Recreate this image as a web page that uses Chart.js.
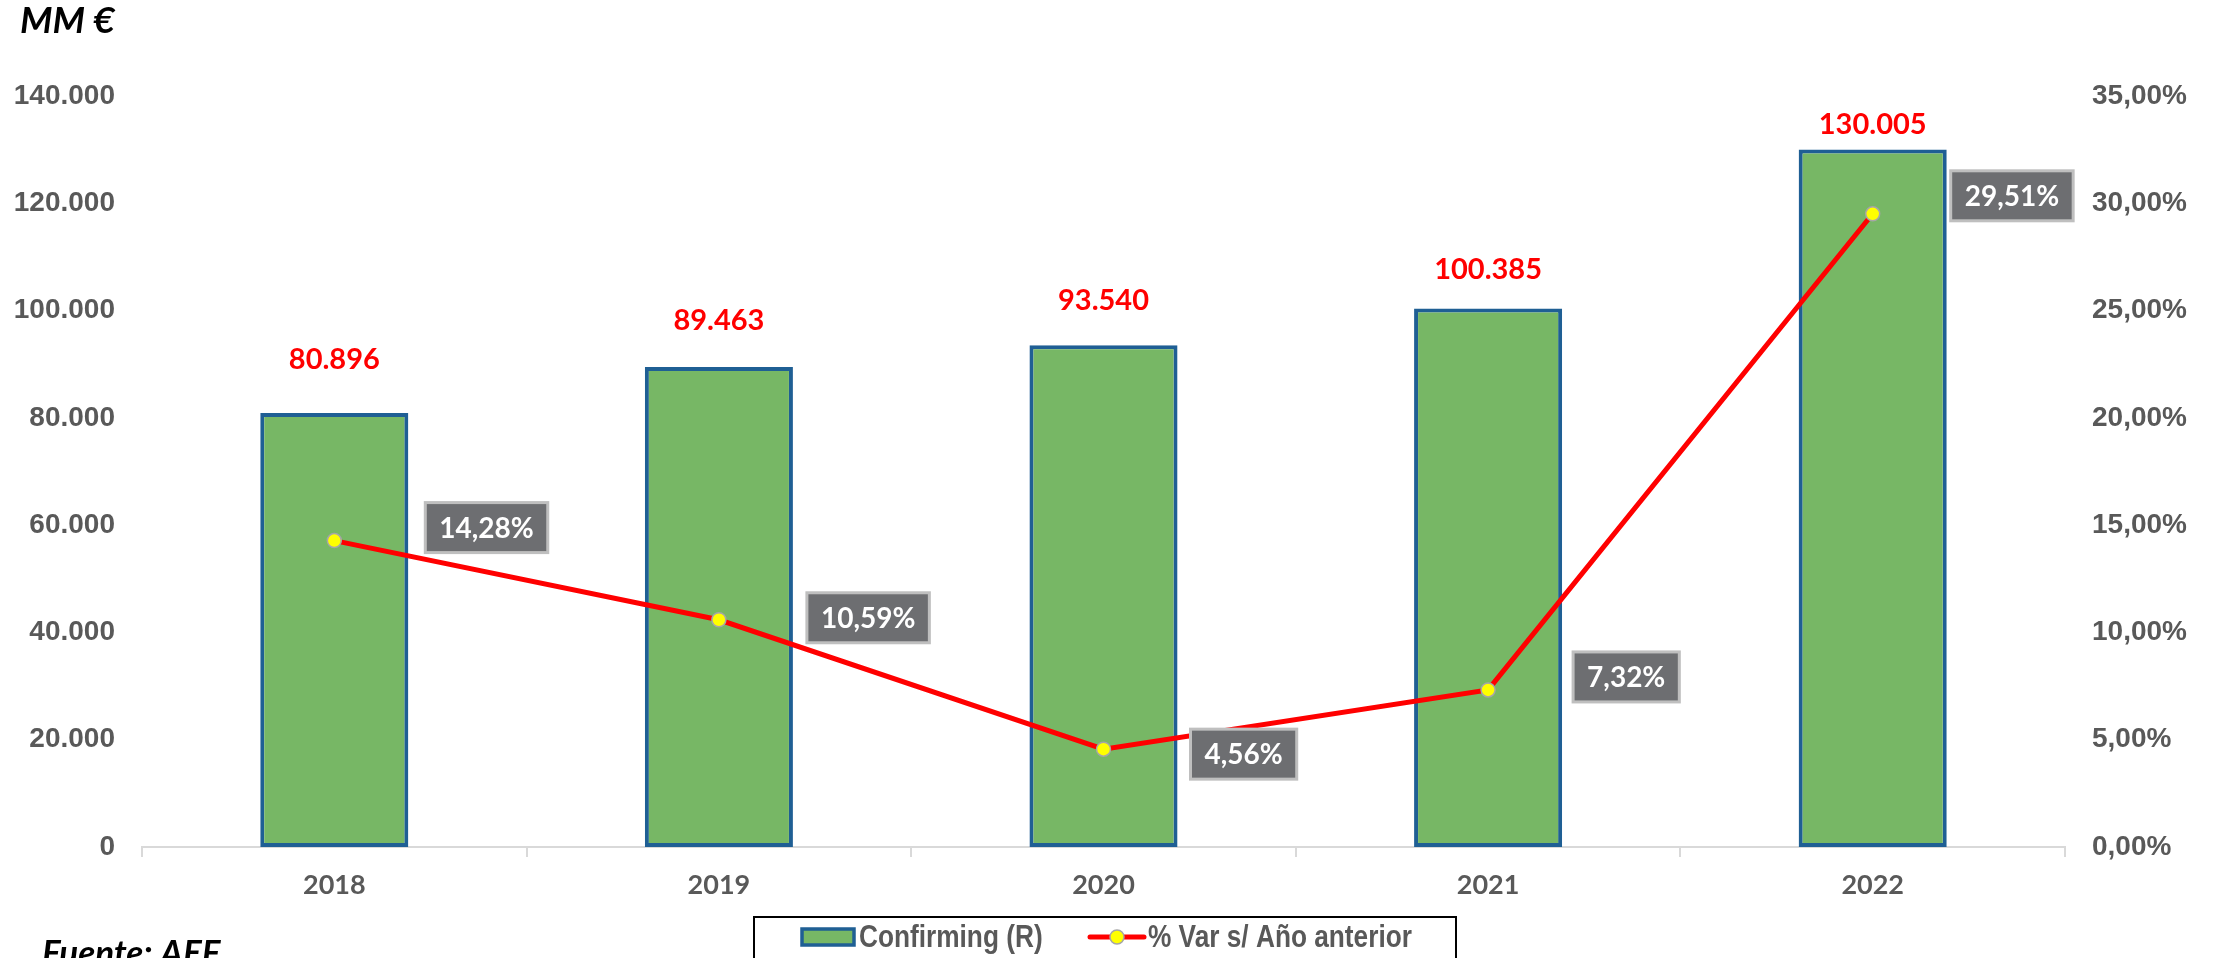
<!DOCTYPE html>
<html>
<head>
<meta charset="utf-8">
<script src="https://cdn.jsdelivr.net/npm/chart.js@4"></script>
<style>
  html, body { margin: 0; padding: 0; background: #ffffff; }
  canvas { display: block; }
</style>
</head>
<body>
<canvas id="c" width="2216" height="958"></canvas>
<script>
// ---- Data ----
const categories = ['2018', '2019', '2020', '2021', '2022'];
const confirming = [80896, 89463, 93540, 100385, 130005];
const variation = [14.28, 10.59, 4.56, 7.32, 29.51];
const leftAxisMax = 140000;
const leftAxisStep = 20000;
const rightAxisMax = 35;
const rightAxisStep = 5;
const titleText = 'MM €';
const sourceText = 'Fuente: AEF';
const barLabel = 'Confirming (R)';
const lineLabel = '% Var s/ Año anterior';

// ---- Formatting helpers ----
function fmtThousands(v) {
  return String(Math.round(v)).replace(/\B(?=(\d{3})+(?!\d))/g, '.');
}
function fmtPct(v) {
  return v.toFixed(2).replace('.', ',') + '%';
}

const GREEN = '#77B765';
const BLUE = '#1F5F94';
const RED = '#FF0000';
const GREY_TXT = '#595959';

// label placement styles (offsets in px)
const valueLabelLift = [54, 47, 46, 40, 26];
const pctBoxDx = [91, 88, 87, 85, 78];
const pctBoxDy = [-13, -2, 5, -13, -18];

function condensedText(ctx, txt, x, y, sx) {
  ctx.save();
  ctx.translate(x, y);
  ctx.scale(sx, 1);
  ctx.fillText(txt, 0, 0);
  ctx.restore();
}

const labelsPlugin = {
  id: 'labelsPlugin',
  afterDatasetsDraw(chart) {
    const ctx = chart.ctx;
    ctx.save();
    // bar value labels
    const barMeta = chart.getDatasetMeta(0);
    ctx.font = 'bold 29px Lato, "Open Sans", sans-serif';
    ctx.fillStyle = RED;
    ctx.textAlign = 'center';
    ctx.textBaseline = 'alphabetic';
    barMeta.data.forEach((el, i) => {
      const cy = el.y - valueLabelLift[i];
      ctx.fillText(fmtThousands(chart.data.datasets[0].data[i]), el.x, cy + 0.358 * 29);
    });
    // percentage boxes
    const lineMeta = chart.getDatasetMeta(1);
    ctx.font = 'bold 28px Lato, "Open Sans", sans-serif';
    lineMeta.data.forEach((el, i) => {
      const txt = fmtPct(chart.data.datasets[1].data[i]);
      const w = ctx.measureText(txt).width + 28;
      const h = 50;
      const left = el.x + pctBoxDx[i];
      const top = el.y + pctBoxDy[i] - h / 2;
      ctx.fillStyle = '#6D6E71';
      ctx.fillRect(left, top, w, h);
      ctx.strokeStyle = '#BFBFBF';
      ctx.lineWidth = 3;
      ctx.strokeRect(left, top, w, h);
      ctx.fillStyle = '#FFFFFF';
      ctx.textAlign = 'center';
      ctx.fillText(txt, left + w / 2, top + h / 2 + 0.358 * 28);
    });
    ctx.restore();
  },
  afterDraw(chart) {
    const ctx = chart.ctx;
    ctx.save();
    // title and source
    ctx.fillStyle = '#000000';
    ctx.textAlign = 'left';
    ctx.textBaseline = 'alphabetic';
    ctx.font = 'italic bold 37px Lato, "Open Sans", sans-serif';
    ctx.fillText(titleText, 20, 33);
    ctx.font = 'italic bold 35px Lato, "Open Sans", sans-serif';
    ctx.fillText(sourceText, 42, 965);

    // legend
    const bx = 754, by = 917, bw = 702;
    ctx.strokeStyle = '#000000';
    ctx.lineWidth = 2;
    ctx.beginPath();
    ctx.moveTo(bx, 962);
    ctx.lineTo(bx, by);
    ctx.lineTo(bx + bw, by);
    ctx.lineTo(bx + bw, 962);
    ctx.stroke();

    const cy = 937;
    // bar swatch
    ctx.fillStyle = GREEN;
    ctx.fillRect(802, cy - 8, 52, 16);
    ctx.strokeStyle = BLUE;
    ctx.lineWidth = 3.5;
    ctx.strokeRect(802, cy - 8, 52, 16);
    ctx.font = 'bold 32px "Liberation Sans", Arial, sans-serif';
    ctx.fillStyle = GREY_TXT;
    ctx.textBaseline = 'middle';
    condensedText(ctx, chart.data.datasets[0].label, 859, cy + 1, 0.82);

    // line swatch
    ctx.strokeStyle = RED;
    ctx.lineWidth = 5;
    ctx.lineCap = 'round';
    ctx.beginPath();
    ctx.moveTo(1090, cy);
    ctx.lineTo(1144, cy);
    ctx.stroke();
    ctx.beginPath();
    ctx.arc(1117, cy, 7, 0, Math.PI * 2);
    ctx.fillStyle = '#FFFF00';
    ctx.fill();
    ctx.lineWidth = 1.5;
    ctx.strokeStyle = '#A6A6A6';
    ctx.stroke();
    ctx.fillStyle = GREY_TXT;
    condensedText(ctx, chart.data.datasets[1].label, 1148, cy + 1, 0.82);
    ctx.restore();
  }
};

new Chart(document.getElementById('c'), {
  type: 'bar',
  data: {
    labels: categories,
    datasets: [
      {
        type: 'bar',
        label: barLabel,
        data: confirming,
        yAxisID: 'y',
        backgroundColor: GREEN,
        borderColor: BLUE,
        borderWidth: 4,
        borderSkipped: false,
        categoryPercentage: 1,
        barPercentage: 0.385,
        order: 2
      },
      {
        type: 'line',
        label: lineLabel,
        data: variation,
        yAxisID: 'y1',
        borderColor: RED,
        borderWidth: 5,
        tension: 0,
        fill: false,
        pointRadius: 7,
        pointBackgroundColor: '#FFFF00',
        pointBorderColor: '#A6A6A6',
        pointBorderWidth: 1.5,
        order: 1
      }
    ]
  },
  options: {
    responsive: false,
    animation: false,
    layout: { padding: { top: 96, left: 0, right: 0, bottom: 0 } },
    plugins: {
      legend: { display: false },
      tooltip: { enabled: false },
      title: { display: false }
    },
    scales: {
      x: {
        offset: true,
        grid: {
          offset: true,
          drawOnChartArea: false,
          drawTicks: true,
          tickLength: 10,
          color: '#D9D9D9',
          lineWidth: 2
        },
        border: { display: true, color: '#D9D9D9', width: 2 },
        ticks: {
          font: { family: 'Lato, "Open Sans", sans-serif', weight: 'bold', size: 27 },
          color: GREY_TXT,
          padding: 12
        },
        afterFit(s) { s.height = 111; }
      },
      y: {
        position: 'left',
        min: 0,
        max: leftAxisMax,
        grid: { display: false, drawTicks: false },
        border: { display: false },
        ticks: {
          stepSize: leftAxisStep,
          padding: 27,
          color: GREY_TXT,
          font: { family: '"Liberation Sans", Arial, sans-serif', weight: 'bold', size: 28 },
          callback: v => fmtThousands(v)
        },
        afterFit(s) { s.width = 142; }
      },
      y1: {
        position: 'right',
        min: 0,
        max: rightAxisMax,
        grid: { display: false, drawTicks: false },
        border: { display: false },
        ticks: {
          stepSize: rightAxisStep,
          padding: 27,
          color: GREY_TXT,
          font: { family: '"Liberation Sans", Arial, sans-serif', weight: 'bold', size: 28 },
          callback: v => fmtPct(v)
        },
        afterFit(s) { s.width = 151; }
      }
    }
  },
  plugins: [labelsPlugin]
});
</script>
</body>
</html>
